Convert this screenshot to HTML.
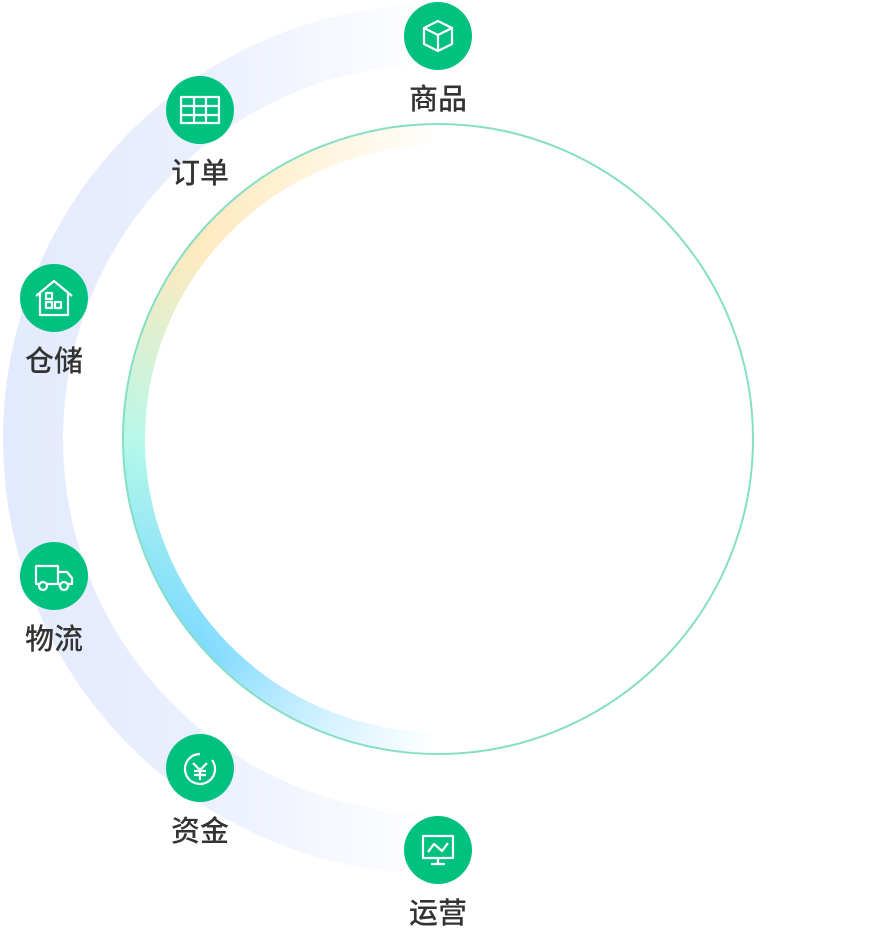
<!DOCTYPE html>
<html><head><meta charset="utf-8"><style>
html,body{margin:0;padding:0;background:#fff;width:876px;height:934px;overflow:hidden}
svg text{font-family:"Liberation Sans","Noto Sans CJK SC",sans-serif;font-size:29px;font-weight:500;fill:#333;text-anchor:middle}
</style></head><body>
<svg width="876" height="934" viewBox="0 0 876 934" xmlns="http://www.w3.org/2000/svg">
<defs>
<linearGradient id="hf" x1="438" y1="0" x2="0" y2="0" gradientUnits="userSpaceOnUse">
<stop offset="0" stop-color="#fff" stop-opacity="0"/>
<stop offset="0.55" stop-color="#fff" stop-opacity="0.75"/>
<stop offset="1" stop-color="#fff" stop-opacity="1"/>
</linearGradient>
<mask id="m" maskUnits="userSpaceOnUse" x="0" y="0" width="876" height="934">
<rect x="0" y="0" width="876" height="934" fill="url(#hf)"/>
</mask>
<linearGradient id="ig" x1="0" y1="124" x2="0" y2="754" gradientUnits="userSpaceOnUse">
<stop offset="0" stop-color="#ffe0a0"/>
<stop offset="0.2" stop-color="#ffe3aa"/>
<stop offset="0.5" stop-color="#a8f7e6"/>
<stop offset="0.85" stop-color="#4dcbff"/>
<stop offset="1" stop-color="#9be0ff"/>
</linearGradient>
</defs>
<path d="M438,34 A405,405 0 0 0 438,844" fill="none" stroke="#e3eafd" stroke-width="60" mask="url(#m)"/>
<path d="M438,135 A304,304 0 0 0 438,743" fill="none" stroke="url(#ig)" stroke-width="22" mask="url(#m)"/>
<circle cx="438" cy="439" r="315" fill="none" stroke="#86dfc4" stroke-width="2"/>
<g fill="#00c17e">
<circle cx="438" cy="36" r="34"/><circle cx="200" cy="110" r="34"/><circle cx="54" cy="298" r="34"/>
<circle cx="54" cy="576" r="34"/><circle cx="200" cy="768" r="34"/><circle cx="438" cy="850" r="34"/>
</g>
<g fill="none" stroke="#fff" stroke-width="2.2" stroke-linejoin="round">
<path d="M438,21 L452,28 L452,44 L438,51 L424,44 L424,28 Z M424,28 L438,35 L452,28 M438,35 L438,51"/>
<rect x="181" y="97" width="38" height="26"/><path d="M181,106 H219 M181,115 H219 M194,97 V123 M206,97 V123"/>
<path d="M36,296 L54,281 L72,296 M40,293 V315 H68 V293"/><rect x="46" y="293" width="6" height="6"/><rect x="46" y="302" width="6" height="6"/><rect x="55" y="302" width="6" height="6"/>
<path d="M36,566 H58 V584 H36 Z M58,572 H67 L72,578 V584 H58"/><circle cx="43" cy="586" r="4" fill="#00c17e"/><circle cx="64" cy="586" r="4" fill="#00c17e"/>
<path d="M212,760 A15,15 0 1 1 200,754"/><path d="M193,763 L200,770 L207,763 M200,770 V780 M194,771 H206 M194,775 H206"/>
<rect x="423" y="836" width="30" height="22"/><path d="M431,864 H445 M438,858 V864 M428,852 L434,844 L442,851 L448,843"/>
</g>
<text x="438" y="109">商品</text>
<text x="200" y="183">订单</text>
<text x="54" y="371">仓储</text>
<text x="54" y="649">物流</text>
<text x="200" y="841">资金</text>
<text x="438" y="923">运营</text>
</svg>
</body></html>
